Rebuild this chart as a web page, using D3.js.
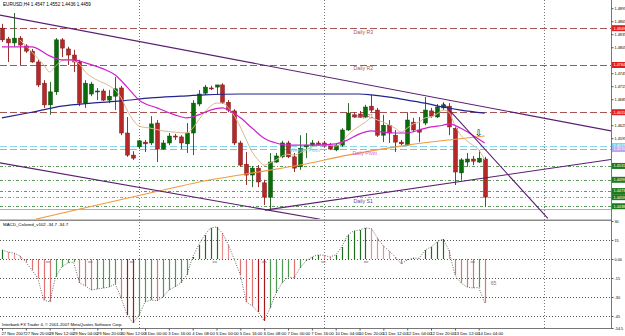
<!DOCTYPE html>
<html><head><meta charset="utf-8">
<script src="https://cdn.jsdelivr.net/npm/d3@7"></script>
<style>
body{margin:0;background:#fff;overflow:hidden;}
svg{display:block;font-family:"Liberation Sans",Arial,sans-serif;}
</style>
</head><body>
<svg id="c" width="625" height="336"></svg>
<script>
// ---------------- DATA ----------------
const chartTitle = "EURUSD,H4 1.4547 1.4552 1.4436 1.4459";
const macdTitle = "MACD_Colored_v102 -34.7 -34.7";
const copyright = "Interbank FX Trader 4, \u00a9 2001-2007 MetaQuotes Software Corp.";

const opens = [1.4849,1.4824,1.4815,1.4826,1.4808,1.4796,1.4771,1.4722,1.4672,1.4702,
 1.4822,1.4801,1.4787,1.4771,1.4676,1.4697,1.4702,1.4704,1.4683,1.4692,
 1.4711,1.4607,1.4556,1.4575,1.4586,1.4584,1.4630,1.4570,1.4584,1.4600,
 1.4598,1.4582,1.4607,1.4674,1.4699,1.4711,1.4713,1.4718,1.4678,1.4658,
 1.4584,1.4535,1.4510,1.4526,1.4492,1.4459,1.4540,1.4552,1.4584,1.4552,
 1.4529,1.4575,1.4579,1.4584,1.4584,1.4579,1.4568,1.4579,1.4614,1.4649,
 1.4651,1.4644,1.4669,1.4660,1.4602,1.4625,1.4602,1.4586,1.4579,1.4632,
 1.4614,1.4630,1.4658,1.4644,1.4665,1.4669,1.4618,1.4515,1.4540,1.4547,
 1.4540,1.4547];
const highs = [1.4859,1.4829,1.4884,1.4831,1.4812,1.4801,1.4776,1.4729,1.4725,1.4826,
 1.4826,1.4806,1.4799,1.4776,1.4729,1.4725,1.4711,1.4709,1.4706,1.4736,
 1.4716,1.4644,1.4565,1.4591,1.4591,1.4646,1.4637,1.4591,1.4607,1.4605,
 1.4602,1.4630,1.4683,1.4706,1.4718,1.4716,1.4718,1.4722,1.4683,1.4662,
 1.4589,1.4563,1.4531,1.4533,1.4499,1.4561,1.4561,1.4589,1.4589,1.4561,
 1.4602,1.4607,1.4591,1.4589,1.4589,1.4584,1.4584,1.4618,1.4676,1.4655,
 1.4658,1.4672,1.4695,1.4665,1.4649,1.4637,1.4614,1.4591,1.4655,1.4642,
 1.4644,1.4690,1.4665,1.4674,1.4678,1.4676,1.4625,1.4549,1.4561,1.4554,
 1.4568,1.4552];
const lows = [1.4817,1.4771,1.4806,1.4764,1.4792,1.4769,1.4713,1.4665,1.4649,1.4695,
 1.4782,1.4764,1.4748,1.4669,1.4665,1.4692,1.4683,1.4681,1.4676,1.4660,
 1.4602,1.4552,1.4545,1.4570,1.4563,1.4579,1.4540,1.4568,1.4579,1.4591,
 1.4570,1.4561,1.4556,1.4669,1.4695,1.4706,1.4695,1.4674,1.4655,1.4579,
 1.4529,1.4487,1.4482,1.4482,1.4441,1.4429,1.4538,1.4549,1.4549,1.4517,
 1.4522,1.4549,1.4575,1.4577,1.4575,1.4568,1.4565,1.4575,1.4612,1.4642,
 1.4642,1.4642,1.4655,1.4598,1.4586,1.4584,1.4563,1.4579,1.4577,1.4609,
 1.4586,1.4625,1.4642,1.4642,1.4660,1.4602,1.4487,1.4499,1.4529,1.4533,
 1.4538,1.4436];
const closes = [1.4822,1.4815,1.4826,1.4810,1.4796,1.4771,1.4718,1.4672,1.4702,1.4822,
 1.4803,1.4787,1.4771,1.4676,1.4722,1.4720,1.4704,1.4683,1.4692,1.4709,
 1.4607,1.4556,1.4549,1.4589,1.4582,1.4628,1.4570,1.4584,1.4600,1.4599,
 1.4584,1.4607,1.4676,1.4697,1.4713,1.4710,1.4718,1.4678,1.4660,1.4584,
 1.4533,1.4510,1.4526,1.4494,1.4459,1.4540,1.4554,1.4584,1.4552,1.4526,
 1.4572,1.4579,1.4584,1.4579,1.4577,1.4570,1.4579,1.4614,1.4653,1.4644,
 1.4644,1.4667,1.4660,1.4602,1.4625,1.4607,1.4586,1.4582,1.4637,1.4614,
 1.4609,1.4660,1.4646,1.4667,1.4672,1.4621,1.4517,1.4545,1.4547,1.4542,
 1.4549,1.4459];

// moving averages: [bar index, price]
const maMagenta = [[0,1.4806],[5,1.4806],[8,1.4785],[10,1.4776],[12,1.4776],[14,1.4769],[17,1.4755],[19,1.4741],
 [21,1.4713],[23,1.4683],[26,1.4665],[29,1.4649],[31,1.4642],[33,1.4649],[35,1.4660],[37,1.4665],[38,1.4660],
 [40,1.4642],[42,1.4618],[44,1.4595],[46,1.4584],[48,1.4579],[52,1.4579],[56,1.4582],[58,1.4591],[60,1.4605],
 [62,1.4612],[64,1.4609],[66,1.4607],[68,1.4607],[70,1.4614],[72,1.4621],[74,1.4625],[75,1.4628],[77,1.4618],
 [79,1.4602],[81,1.4584]];
const maTan = [[3,1.4822],[5,1.4794],[7,1.4764],[8,1.4748],[9,1.4762],[10,1.4773],[11,1.4776],[12,1.4773],
 [13,1.4766],[14,1.4748],[16,1.4729],[18,1.4716],[19,1.4706],[20,1.4688],[21,1.4660],[22,1.4637],[23,1.4623],
 [25,1.4618],[27,1.4612],[29,1.4609],[31,1.4607],[32,1.4618],[33,1.4637],[34,1.4655],[35,1.4669],[36,1.4676],
 [37,1.4676],[38,1.4665],[39,1.4646],[40,1.4621],[41,1.4591],[42,1.4563],[43,1.4545],[44,1.4533],[45,1.4538],
 [46,1.4545],[47,1.4554],[48,1.4558],[49,1.4556],[50,1.4561],[51,1.4568],[52,1.4575],[53,1.4579],[55,1.4579],
 [56,1.4577],[57,1.4584],[58,1.4602],[59,1.4614],[60,1.4623],[61,1.4632],[62,1.4642],[63,1.4637],[64,1.4632],
 [66,1.4618],[67,1.4609],[68,1.4618],[69,1.4628],[70,1.4632],[71,1.4642],[72,1.4644],[73,1.4651],[74,1.4660],
 [75,1.4655],[76,1.4625],[77,1.4602],[78,1.4589],[79,1.4579],[80,1.4568],[81,1.4545]];
const maBlue = [[0,1.4642],[5,1.4655],[10,1.4669],[15,1.4676],[20,1.4681],[25,1.4688],[30,1.4692],[34,1.4695],
 [40,1.4697],[50,1.4697],[60,1.4697],[62,1.4695],[65,1.4690],[68,1.4683],[71,1.4676],[74,1.4667],[77,1.4660],[81,1.4653]];
const maOrange = [[5,1.4406],[16,1.4441],[25,1.4469],[35,1.4499],[43,1.4517],[50,1.4533],[58,1.4556],[68,1.4579],[75,1.4591],[81,1.4600]];

// trend lines: [bar index, price]
const trendUpper = [[-0.34,1.4879],[102.2,1.4612]];
const trendLowerDown = [[-0.34,1.4538],[53.4,1.4408]];
const trendLowerUp = [[44.1,1.4429],[102.2,1.4546]];
const trendSteep = [[74.0,1.4676],[91.6,1.4410]];

// pivot levels
const levelNames = ["Daily R3","Daily R2","Daily R1","Weekly Pivot","Daily Pivot","Daily S1"];
const levelPrices = [1.4849,1.4764,1.4655,1.4577,1.4570,1.4459];
const supportPrices = [1.4531,1.4499,1.4473,1.4438];
const orangeLevel = 1.4431;

// MACD histogram
const macd = [7.1,5.5,4.7,2.4,-2.4,-8.7,-15.0,-32.4,-33.9,-14.2,
 -6.3,-3.2,-2.4,-18.9,-21.3,-24.5,-23.7,-23.0,-22.1,-19.7,
 -30.8,-44.2,-50.5,-44.2,-33.9,-32.4,-33.0,-30.0,-24.5,-22.1,
 -18.9,-12.6,1.6,11.1,18.9,24.5,25.3,20.5,11.1,-0.5,
 -12.6,-33.9,-37.1,-41.8,-48.9,-38.7,-26.8,-18.9,-14.2,-15.0,
 -7.1,-1.6,1.6,3.2,3.0,1.6,3.2,9.5,18.9,22.1,
 22.9,24.5,24.0,16.6,10.3,6.3,1.6,-3.9,-0.8,0.8,
 0.6,7.1,9.5,13.4,15.8,7.1,-12.6,-18.9,-22.1,-22.9,
 -22.5,-34.7];
const macdMarkBars = [7.7,14.8,21.8,35.7,44,53.9,61.1,79];

// time axis
const timeLabels = ["27 Nov 2007","27 Nov 20:00","28 Nov 12:00","29 Nov 04:00","29 Nov 20:00","30 Nov 12:00",
 "3 Dec 00:00","3 Dec 16:00","4 Dec 08:00","5 Dec 00:00","5 Dec 16:00","6 Dec 08:00","7 Dec 00:00","7 Dec 16:00",
 "10 Dec 04:00","10 Dec 20:00","11 Dec 12:00","12 Dec 04:00","12 Dec 20:00","13 Dec 12:00","14 Dec 04:00"];
const timeLabelBars = d3.range(0, 81, 4);
const separatorBars = [23, 54, 91];
const priceTicks = d3.range(0,16).map(k => +(1.4895 - k*0.0030).toFixed(4));
const macdTicks = [30.0, 15, 0, -15, -30, -45, -54.5];

// ---------------- LAYOUT ----------------
const svg = d3.select("#c");
const axisX = 611, mainBot = 219, indTop = 221, indBot = 328;
const x = d3.scaleLinear().domain([0, 102.2]).range([2, 611]);
const yP = d3.scaleLinear().domain([1.4914 - 219*0.0002308, 1.4914]).range([mainBot, 0]);
const yM = d3.scaleLinear().domain([-54.5, 30]).range([indBot, indTop]);
const px = i => Math.round(x(i)) + 0.5;

const defs = svg.append("defs");
defs.append("clipPath").attr("id","clipMain").append("rect").attr("x",0).attr("y",0).attr("width",axisX).attr("height",mainBot);
defs.append("clipPath").attr("id","clipInd").append("rect").attr("x",0).attr("y",indTop).attr("width",axisX).attr("height",indBot-indTop);

svg.append("rect").attr("width",625).attr("height",336).attr("fill","#fff");

// period separators
svg.append("g").selectAll("line").data(separatorBars).join("line")
  .attr("x1",d=>px(d)).attr("x2",d=>px(d)).attr("y1",0).attr("y2",indBot)
  .attr("stroke","#777").attr("stroke-dasharray","1,2");

const gMain = svg.append("g").attr("clip-path","url(#clipMain)");

// orange level
gMain.append("line").attr("x1",0).attr("x2",axisX).attr("y1",Math.round(yP(orangeLevel))+0.5).attr("y2",Math.round(yP(orangeLevel))+0.5)
  .attr("stroke","#f0a050").attr("stroke-width",1);

// support dotted green lines
gMain.append("g").selectAll("line").data(supportPrices).join("line")
  .attr("x1",0).attr("x2",axisX).attr("y1",d=>Math.round(yP(d))+0.5).attr("y2",d=>Math.round(yP(d))+0.5)
  .attr("stroke","#5f9a5f").attr("stroke-dasharray","3,2,1,2");

// pivot level lines
const levelStyle = {
  "Daily R3":{c:"#a65555",dash:"7,3",tc:"#a65555"},
  "Daily R2":{c:"#a65555",dash:"7,3",tc:"#a65555"},
  "Daily R1":{c:"#a65555",dash:"7,3",tc:"#a65555"},
  "Weekly Pivot":{c:"#88d8ee",dash:"7,3",tc:"#6fd0ea"},
  "Daily Pivot":{c:"#e090e0",dash:"7,3",tc:"#d060d0"},
  "Daily S1":{c:"#8fae8f",dash:"3,2,1,2",tc:"#5a4aa8"}
};
const levels = levelNames.map((n,k)=>({name:n, price:levelPrices[k]}));
gMain.append("g").selectAll("line").data(levels).join("line")
  .attr("x1",0).attr("x2",axisX).attr("y1",d=>Math.round(yP(d.price))+0.5).attr("y2",d=>Math.round(yP(d.price))+0.5)
  .attr("stroke",d=>levelStyle[d.name].c).attr("stroke-width",1.2)
  .attr("stroke-dasharray",d=>levelStyle[d.name].dash);

// candles
const candles = opens.map((o,i)=>({i,o,h:highs[i],l:lows[i],c:closes[i]}));
const upCol = "#0b6b0b", dnCol = "#b42828";
const gC = gMain.append("g");
gC.selectAll("line").data(candles).join("line")
  .attr("x1",d=>px(d.i)).attr("x2",d=>px(d.i))
  .attr("y1",d=>yP(d.h)).attr("y2",d=>yP(d.l))
  .attr("stroke",d=>d.c>=d.o?"#2d6e2d":"#9b3030").attr("stroke-width",1);
gC.selectAll("rect").data(candles).join("rect")
  .attr("x",d=>Math.round(x(d.i))-1.5)
  .attr("width",4)
  .attr("y",d=>Math.min(yP(d.o),yP(d.c)))
  .attr("height",d=>Math.max(1,Math.abs(yP(d.o)-yP(d.c))))
  .attr("fill",d=>d.c>=d.o?upCol:dnCol)
  .attr("stroke",d=>d.c>=d.o?"#064d06":"#7d1a1a").attr("stroke-width",0.5);

// moving averages
const line = d3.line().x(d=>x(d[0])).y(d=>yP(d[1])).curve(d3.curveMonotoneX);
gMain.append("path").attr("d",line(maOrange)).attr("fill","none").attr("stroke","#f09a40").attr("stroke-width",1.1);
gMain.append("path").attr("d",line(maBlue)).attr("fill","none").attr("stroke","#23238e").attr("stroke-width",1.2);
gMain.append("path").attr("d",line(maTan)).attr("fill","none").attr("stroke","#d8b890").attr("stroke-width",1);
gMain.append("path").attr("d",line(maMagenta)).attr("fill","none").attr("stroke","#d020d0").attr("stroke-width",1.2);

// trend lines
const tl = d3.line().x(d=>x(d[0])).y(d=>yP(d[1]));
[trendUpper, trendLowerDown, trendLowerUp, trendSteep].forEach(t=>{
  gMain.append("path").attr("d",tl(t)).attr("fill","none").attr("stroke","#5a1f6e").attr("stroke-width",1.1);
});

// arrow marker near last bars
gMain.append("text").attr("x",x(80)).attr("y",yP(1.4607)+3).attr("text-anchor","middle")
  .attr("font-size",9).attr("font-family","DejaVu Sans").attr("fill","#000").text("\u21e9");

// level labels
const labelBar = {"Daily R3":59,"Daily R2":59,"Daily R1":59,"Weekly Pivot":48.3,"Daily Pivot":58.8,"Daily S1":59};
gMain.append("g").selectAll("text").data(levels).join("text")
  .attr("x",d=>x(labelBar[d.name])).attr("y",d=>yP(d.price)+5.5)
  .attr("font-size",5.2).attr("fill",d=>levelStyle[d.name].tc).text(d=>d.name);

// title
svg.append("text").attr("x",3).attr("y",6).attr("font-size",4.6).attr("fill","#000").text(chartTitle);

// pane separator
svg.append("rect").attr("x",0).attr("y",mainBot+0.5).attr("width",axisX).attr("height",1.5).attr("fill","#8a8a8a");

// ---------------- MACD PANE ----------------
const gInd = svg.append("g").attr("clip-path","url(#clipInd)");
gInd.append("g").selectAll("line").data(macdTicks.slice(1,-1)).join("line")
  .attr("x1",0).attr("x2",axisX).attr("y1",d=>Math.round(yM(d))+0.5).attr("y2",d=>Math.round(yM(d))+0.5)
  .attr("stroke","#555").attr("stroke-dasharray","1,2");

function macdColor(i){
  const v = macd[i], prev = i>0?macd[i-1]:v;
  const up = v >= prev;
  if (up) return v >= 0 ? "#1f6e1f" : "#4f9a4f";
  if (v < -40) return "#a81818";
  return v >= 0 ? "#e89090" : "#e07272";
}
gInd.append("g").selectAll("line").data(macd).join("line")
  .attr("x1",(d,i)=>px(i)).attr("x2",(d,i)=>px(i))
  .attr("y1",yM(0)).attr("y2",d=>yM(d))
  .attr("stroke",(d,i)=>macdColor(i)).attr("stroke-width",1.2);
gInd.append("path").attr("d",d3.line().x((d,i)=>x(i)).y(d=>yM(d))(macd))
  .attr("fill","none").attr("stroke","#444").attr("stroke-width",0.8).attr("stroke-dasharray","1,1.5");
gInd.append("g").selectAll("text").data(macdMarkBars).join("text")
  .attr("x",d=>x(d)).attr("y",yM(0)+4).attr("text-anchor","middle")
  .attr("font-size",4).attr("fill","#666").text("oo");
gInd.append("text").attr("x",x(82)).attr("y",yM(-19)+2).attr("font-size",5).attr("fill","#777").text("65");
svg.append("text").attr("x",3).attr("y",226).attr("font-size",4.4).attr("fill","#000").text(macdTitle);
svg.append("text").attr("x",2).attr("y",326).attr("font-size",4.2).attr("fill","#000").text(copyright);

// ---------------- AXES ----------------
svg.append("line").attr("x1",axisX+0.5).attr("x2",axisX+0.5).attr("y1",0).attr("y2",indBot).attr("stroke","#777");
svg.append("line").attr("x1",0).attr("x2",axisX+1).attr("y1",indBot+0.5).attr("y2",indBot+0.5).attr("stroke","#777");

// right-axis price boxes
const boxCol = {"Daily R3":"#e02020","Daily R2":"#e02020","Daily R1":"#e02020","Weekly Pivot":"#66e0f2","Daily Pivot":"#b8a8f0","Daily S1":"#1f7a1f"};
const boxes = levels.map(d=>({p:d.price,c:boxCol[d.name]}))
  .concat(supportPrices.map(p=>({p,c:"#1f7a1f"})));

const visibleTicks = priceTicks.filter(t => boxes.every(b => Math.abs(yP(b.p) - yP(t)) > 5));
const pAxis = svg.append("g").attr("transform",`translate(${axisX+0.5},0)`)
  .call(d3.axisRight(yP).tickValues(visibleTicks).tickFormat(d3.format(".4f")).tickSize(2));
pAxis.select(".domain").remove();
pAxis.selectAll("text").attr("font-size",3.8).attr("x",3).attr("fill","#000");
pAxis.selectAll("line").attr("stroke","#555");

const mAxis = svg.append("g").attr("transform",`translate(${axisX+0.5},0)`)
  .call(d3.axisRight(yM).tickValues(macdTicks).tickFormat(d=>d===0?"0.00":(Number.isInteger(d)?String(d):d.toFixed(1))).tickSize(2));
mAxis.select(".domain").remove();
mAxis.selectAll("text").attr("font-size",3.8).attr("x",3).attr("fill","#000");
mAxis.selectAll("line").attr("stroke","#555");

const gB = svg.append("g");
gB.selectAll("rect").data(boxes).join("rect")
  .attr("x",axisX+1).attr("y",d=>yP(d.p)-3).attr("width",13).attr("height",6).attr("fill",d=>d.c);
gB.selectAll("text").data(boxes).join("text")
  .attr("x",axisX+2.5).attr("y",d=>yP(d.p)+1.4).attr("font-size",3.8).attr("fill","#fff")
  .text(d=>d3.format(".4f")(d.p));

const tAxis = svg.append("g").attr("transform",`translate(0,${indBot+0.5})`)
  .call(d3.axisBottom(x).tickValues(timeLabelBars).tickFormat((d,k)=>timeLabels[k]).tickSize(2));
tAxis.select(".domain").remove();
tAxis.selectAll("text").attr("font-size",4.2).attr("text-anchor","start").attr("dx",-1).attr("y",3.5).attr("fill","#000");
tAxis.selectAll("line").attr("stroke","#555");
</script>
</body></html>
